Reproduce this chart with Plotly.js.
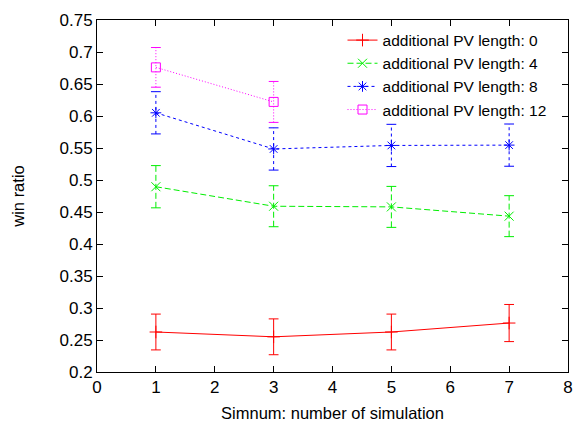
<!DOCTYPE html>
<html>
<head>
<meta charset="utf-8">
<script src="https://cdn.plot.ly/plotly-3.0.1.min.js"></script>
<style>html,body{margin:0;padding:0;background:#fff;}#chart{width:583px;height:423px;}</style>
</head>
<body>
<div id="chart"></div>
<script>
// ---- data ----
const simnum = [1, 3, 5, 7];
const simnum12 = [1, 3];
const pv0 = [0.2625, 0.255, 0.2625, 0.2765];
const err0 = [0.028, 0.028, 0.028, 0.029];
const pv4 = [0.4895, 0.459, 0.458, 0.4435];
const err4 = [0.033, 0.032, 0.032, 0.032];
const pv8 = [0.605, 0.5485, 0.554, 0.5545];
const err8 = [0.033, 0.033, 0.033, 0.033];
const pv12 = [0.676, 0.622];
const err12 = [0.031, 0.032];
const seriesNames = ["additional PV length: 0", "additional PV length: 4", "additional PV length: 8", "additional PV length: 12"];
const yTicks = [0.2, 0.25, 0.3, 0.35, 0.4, 0.45, 0.5, 0.55, 0.6, 0.65, 0.7, 0.75];
const yTickText = ["0.2", "0.25", "0.3", "0.35", "0.4", "0.45", "0.5", "0.55", "0.6", "0.65", "0.7", "0.75"];
const xTicks = [0, 1, 2, 3, 4, 5, 6, 7, 8];

const FONT = "Liberation Sans, Arial, Helvetica, sans-serif";

function mk(x, y, name, color, dash, symbol) {
  return {
    type: "scatter", mode: "lines+markers", x: x, y: y, name: name,
    line: {color: color, width: 1, dash: dash},
    marker: {symbol: symbol, size: 9, color: color, line: {color: color, width: 1}}
  };
}
// error bars drawn as dashed vertical segments with caps, from value +/- error
function errBars(x, y, e, color, dash) {
  const xs = [], ys = [];
  for (let i = 0; i < x.length; i++) {
    xs.push(x[i], x[i], null);
    ys.push(y[i] - e[i], y[i] + e[i], null);
  }
  return {
    type: "scatter", mode: "lines+markers", x: xs, y: ys, showlegend: false, hoverinfo: "skip",
    line: {color: color, width: 1, dash: dash},
    marker: {symbol: "line-ew-open", size: 7, color: color, line: {color: color, width: 1}}
  };
}

const RED = "#ff0000", GREEN = "#00ee00", BLUE = "#0000ff", MAG = "#ff00ff";
const D0 = "solid", D4 = "6px,3px", D8 = "3px,3px", D12 = "1px,2px";

const traces = [
  errBars(simnum, pv0, err0, RED, D0),
  errBars(simnum, pv4, err4, GREEN, D4),
  errBars(simnum, pv8, err8, BLUE, D8),
  errBars(simnum12, pv12, err12, MAG, D12),
  mk(simnum, pv0, seriesNames[0], RED, D0, "cross-thin-open"),
  mk(simnum, pv4, seriesNames[1], GREEN, D4, "x-thin-open"),
  mk(simnum, pv8, seriesNames[2], BLUE, D8, "asterisk-open"),
  mk(simnum12, pv12, seriesNames[3], MAG, D12, "square-open")
];

const layout = {
  width: 583, height: 423,
  margin: {l: 97, r: 15, t: 20, b: 51},
  paper_bgcolor: "#fff", plot_bgcolor: "#fff",
  font: {family: FONT, size: 17, color: "#000"},
  showlegend: true,
  legend: {x: 0.965, xanchor: "right", y: 0.99, yanchor: "top", bgcolor: "rgba(0,0,0,0)",
           font: {family: FONT, size: 15.5}, tracegroupgap: 0},
  xaxis: {
    range: [0, 8], tickvals: xTicks, ticktext: xTicks.map(String),
    ticks: "inside", ticklen: 6, tickcolor: "#000", mirror: "ticks",
    showline: true, linecolor: "#000", linewidth: 1, showgrid: false, zeroline: false,
    tickfont: {family: FONT, size: 17},
    title: {text: "Simnum: number of simulation", font: {family: FONT, size: 16.5}, standoff: 11}
  },
  yaxis: {
    range: [0.2, 0.75], tickvals: yTicks, ticktext: yTickText,
    ticks: "inside", ticklen: 6, tickcolor: "#000", mirror: "ticks",
    showline: true, linecolor: "#000", linewidth: 1, showgrid: false, zeroline: false,
    tickfont: {family: FONT, size: 17},
    title: {text: "win ratio", font: {family: FONT, size: 16.5}, standoff: 30}
  }
};

Plotly.newPlot("chart", traces, layout, {displayModeBar: false, staticPlot: true});
</script>
</body>
</html>
